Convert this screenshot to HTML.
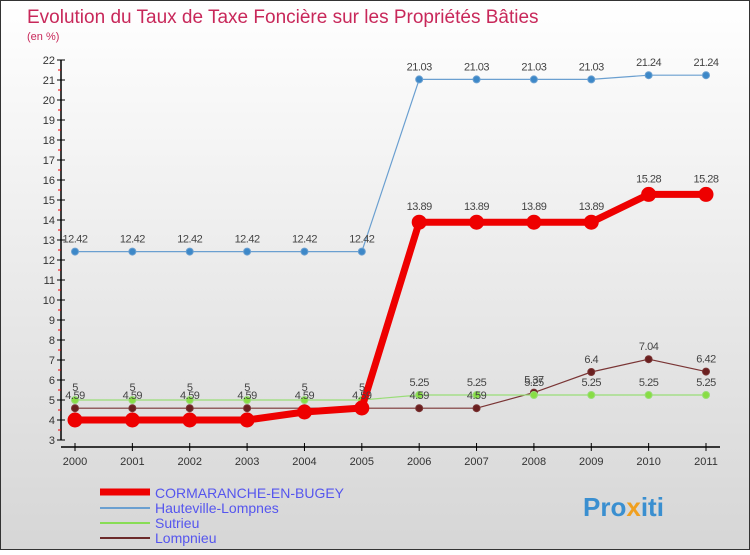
<!DOCTYPE html>
<html><head><meta charset="utf-8"><style>
html,body{margin:0;padding:0;}
body{width:750px;height:550px;overflow:hidden;font-family:"Liberation Sans",sans-serif;}
</style></head><body>
<svg id="chart" width="750" height="550" xmlns="http://www.w3.org/2000/svg">
<defs><linearGradient id="bg" x1="0" y1="0" x2="0" y2="1"><stop offset="0" stop-color="#ffffff"/><stop offset="1" stop-color="#d6d6d6"/></linearGradient></defs>
<rect x="0.5" y="0.5" width="749" height="549" fill="url(#bg)" stroke="#333"/>
<text x="27" y="23" font-size="19" fill="#c8285a">Evolution du Taux de Taxe Foncière sur les Propriétés Bâties</text>
<text x="27" y="40" font-size="11" fill="#c8285a">(en %)</text>
<g id="axes"></g><g id="series"></g><g id="labels"></g>
<g font-size="14">
<line x1="100" y1="492" x2="150" y2="492" stroke="#ee0000" stroke-width="7"/>
<text x="155" y="498" fill="#5555ee">CORMARANCHE-EN-BUGEY</text>
<line x1="100" y1="508" x2="150" y2="508" stroke="#6a9fd0" stroke-width="2"/>
<text x="155" y="513" fill="#5555ee">Hauteville-Lompnes</text>
<line x1="100" y1="523" x2="150" y2="523" stroke="#88dd55" stroke-width="2"/>
<text x="155" y="528" fill="#5555ee">Sutrieu</text>
<line x1="100" y1="538" x2="150" y2="538" stroke="#6b2a2a" stroke-width="2"/>
<text x="155" y="543" fill="#5555ee">Lompnieu</text>
</g>
<text x="583" y="516" font-size="26" font-weight="bold" fill="#3a8fd0">Pro<tspan fill="#f0a020">x</tspan>iti</text>
</svg>
<script>
const years=[2000,2001,2002,2003,2004,2005,2006,2007,2008,2009,2010,2011];
const cormaranche=[4,4,4,4,4.4,4.6,13.89,13.89,13.89,13.89,15.28,15.28];
const hauteville=[12.42,12.42,12.42,12.42,12.42,12.42,21.03,21.03,21.03,21.03,21.24,21.24];
const sutrieu=[5,5,5,5,5,5,5.25,5.25,5.25,5.25,5.25,5.25];
const lompnieu=[4.59,4.59,4.59,4.59,4.59,4.59,4.59,4.59,5.37,6.4,7.04,6.42];
const yTicks=[3,4,5,6,7,8,9,10,11,12,13,14,15,16,17,18,19,20,21,22];
const NS="http://www.w3.org/2000/svg";
const xs=i=>75+i*(706-75)/11;
const ys=v=>440-(v-3)*20;
function mk(t,a,p){const e=document.createElementNS(NS,t);for(const k in a)e.setAttribute(k,a[k]);p.appendChild(e);return e;}
const ax=document.getElementById('axes');
let yl=mk('line',{x1:61,y1:ys(22),x2:61,y2:ys(3),stroke:'#000','stroke-width':1.5},ax);


yTicks.forEach(v=>{
 mk('line',{x1:57,y1:ys(v),x2:65,y2:ys(v),stroke:'#000'},ax);
 if(v<22)mk('line',{x1:58,y1:ys(v+0.5),x2:61,y2:ys(v+0.5),stroke:'#e00'},ax);
 const t=mk('text',{x:55,y:ys(v)+4,'font-size':11,'text-anchor':'end',fill:'#333'},ax);t.textContent=v;
 
 
});
let xl=mk('line',{x1:61,y1:447,x2:720,y2:447,stroke:'#000','stroke-width':1.5},ax);


years.forEach((y,i)=>{
 mk('line',{x1:xs(i),y1:443,x2:xs(i),y2:451,stroke:'#000'},ax);
 const t=mk('text',{x:xs(i),y:465,'font-size':11,'text-anchor':'middle',fill:'#333'},ax);t.textContent=y;
 
 
});
const sg=document.getElementById('series'),lg=document.getElementById('labels');
function series(data,name,color,w,r,dot,labels){
 const g=mk('g',{},sg);
 
 
 mk('polyline',{points:data.map((v,i)=>xs(i)+','+ys(v)).join(' '),fill:'none',stroke:color,'stroke-width':w,'stroke-linejoin':'round'},g);
 data.forEach((v,i)=>{
  const c=mk('circle',{cx:xs(i),cy:ys(v),r:r,fill:dot,stroke:color,'stroke-width':1},g);
  
  
  if(labels){const t=mk('text',{x:xs(i),y:ys(v)-9,'font-size':11,'text-anchor':'middle',fill:'#444','letter-spacing':'-0.5'},lg);t.textContent=String(v);
  
  }
 });
}
series(lompnieu,'lompnieu','#7a3535',1.2,3.5,'#6b2020',true);
series(sutrieu,'sutrieu','#99dd77',1.2,3.5,'#88dd44',true);
series(hauteville,'hauteville','#6a9fd0',1.2,3.5,'#3d88c8',true);
series(cormaranche,'cormaranche','#ee0000',7,7,'#ee0000',false);
cormaranche.forEach((v,i)=>{if(i<6)return;const t=mk('text',{x:xs(i),y:ys(v)-12,'font-size':11,'text-anchor':'middle',fill:'#444','letter-spacing':'-0.5'},lg);t.textContent=String(v);
 
 });
</script>
</body></html>
